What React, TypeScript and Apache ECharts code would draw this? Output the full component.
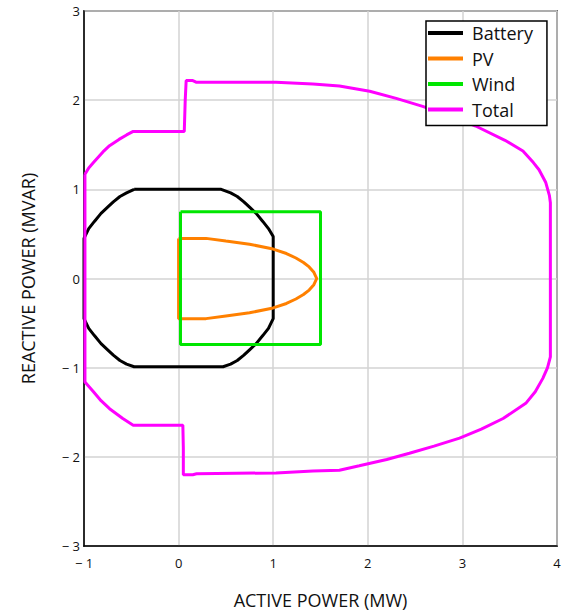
import React, { useEffect, useRef } from "react";
import * as echarts from "echarts";

const seriesNames = ["Battery", "PV", "Wind", "Total"];
const seriesColors = ["#000000", "#ff8000", "#00e600", "#ff00ff"];

const xTicks = [-1, 0, 1, 2, 3, 4];
const yTicks = [-3, -2, -1, 0, 1, 2, 3];

const battery: [number, number][] = [
  [-0.47, 1.0], [0.45, 1.0], [0.55, 0.96], [0.62, 0.92], [0.69, 0.86], [0.75, 0.8],
  [0.82, 0.73], [0.89, 0.64], [0.95, 0.56], [1.0, 0.47],
  [1.0, -0.45], [0.95, -0.56], [0.89, -0.64], [0.82, -0.73], [0.75, -0.8], [0.69, -0.86],
  [0.62, -0.92], [0.55, -0.96], [0.47, -0.99],
  [-0.47, -0.99], [-0.55, -0.96], [-0.62, -0.92], [-0.69, -0.86], [-0.75, -0.8],
  [-0.82, -0.73], [-0.89, -0.64], [-0.95, -0.56], [-1.0, -0.45],
  [-1.0, 0.45], [-0.95, 0.56], [-0.89, 0.64], [-0.82, 0.73], [-0.75, 0.8], [-0.69, 0.86],
  [-0.62, 0.92], [-0.55, 0.96], [-0.47, 1.0],
];

const pv: [number, number][] = [
  [0.0, 0.45], [0.29, 0.45], [0.5, 0.42], [0.75, 0.385], [1.0, 0.33], [1.14, 0.28],
  [1.24, 0.23], [1.32, 0.18], [1.38, 0.13], [1.43, 0.07], [1.46, 0.0], [1.43, -0.07],
  [1.38, -0.13], [1.32, -0.18], [1.24, -0.23], [1.14, -0.28], [1.0, -0.33], [0.75, -0.385],
  [0.5, -0.42], [0.29, -0.45], [0.0, -0.45], [0.0, 0.45],
];

const wind: [number, number][] = [
  [0.02, 0.75], [1.5, 0.75], [1.5, -0.74], [0.02, -0.74], [0.02, 0.75],
];

const total: [number, number][] = [
  [-0.99, 1.17], [-0.95, 1.24], [-0.9, 1.3], [-0.8, 1.42], [-0.73, 1.49], [-0.63, 1.56],
  [-0.55, 1.61], [-0.48, 1.65], [0.06, 1.65], [0.07, 2.0], [0.08, 2.22], [0.15, 2.22],
  [0.19, 2.2], [1.03, 2.2], [1.42, 2.18], [1.7, 2.16], [2.02, 2.1], [2.3, 2.02],
  [2.58, 1.93], [2.9, 1.81], [3.14, 1.71], [3.45, 1.55], [3.64, 1.43], [3.75, 1.3],
  [3.81, 1.22], [3.88, 1.08], [3.92, 0.93], [3.93, 0.85], [3.93, -0.88], [3.9, -1.0],
  [3.85, -1.12], [3.77, -1.27], [3.67, -1.4], [3.43, -1.57], [3.2, -1.69], [2.97, -1.79],
  [2.7, -1.88], [2.44, -1.96], [2.2, -2.03], [1.91, -2.1], [1.7, -2.15], [1.42, -2.16],
  [1.03, -2.18], [0.19, -2.19], [0.15, -2.2], [0.05, -2.2], [0.05, -1.9], [0.045, -1.645],
  [-0.48, -1.645], [-0.59, -1.57], [-0.73, -1.46], [-0.82, -1.37], [-0.9, -1.27],
  [-0.99, -1.16], [-0.99, -1.12], [-0.99, 1.17],
];

const seriesData = [battery, pv, wind, total];

const FONT = "'Open Sans', 'Noto Sans', sans-serif";

const fmt = (v: number) => (v < 0 ? "\u2212 " + Math.abs(v) : String(v));

export default function App() {
  const ref = useRef<HTMLDivElement>(null);
  useEffect(() => {
    document.body.style.margin = "0";
    if (!ref.current) return;
    const chart = echarts.init(ref.current, undefined, { renderer: "svg" });
    chart.setOption({
      animation: false,
      backgroundColor: "#ffffff",
      grid: {
        left: 84,
        right: 18,
        top: 11,
        bottom: 66,
        show: true,
        borderColor: "#000",
        borderWidth: 1.5,
      },
      legend: {
        data: seriesNames,
        orient: "vertical",
        left: 426,
        top: 21,
        backgroundColor: "#ffffff",
        borderColor: "#000",
        borderWidth: 1.5,
        borderRadius: 0,
        padding: [3, 14, 7, 2],
        itemGap: 7.5,
        itemWidth: 35,
        itemHeight: 4,
        icon: "rect",
        textStyle: { fontSize: 18, fontFamily: FONT, color: "#111", lineHeight: 18, padding: [0, 0, 0, 4] },
      },
      xAxis: {
        type: "value",
        min: xTicks[0],
        max: xTicks[xTicks.length - 1],
        interval: 1,
        name: "ACTIVE POWER (MW)",
        nameLocation: "middle",
        nameGap: 45,
        nameTextStyle: { fontSize: 18, fontFamily: FONT, color: "#111" },
        axisLine: { show: true, onZero: false, lineStyle: { color: "#000", width: 1.5 } },
        axisTick: { show: false },
        axisLabel: { formatter: fmt, fontSize: 13, fontFamily: FONT, color: "#111", margin: 10 },
        splitLine: { show: true, lineStyle: { color: "#d3d3d3", width: 1.5 } },
      },
      yAxis: {
        type: "value",
        min: yTicks[0],
        max: yTicks[yTicks.length - 1],
        interval: 1,
        name: "REACTIVE POWER (MVAR)",
        nameLocation: "middle",
        nameGap: 47,
        nameTextStyle: { fontSize: 18, fontFamily: FONT, color: "#111" },
        axisLine: { show: true, onZero: false, lineStyle: { color: "#000", width: 1.5 } },
        axisTick: { show: false },
        axisLabel: { formatter: fmt, fontSize: 13, fontFamily: FONT, color: "#111", margin: 4 },
        splitLine: { show: true, lineStyle: { color: "#d3d3d3", width: 1.5 } },
      },
      series: seriesNames.map((name, i) => ({
        name,
        type: "line",
        data: seriesData[i],
        symbol: "none",
        showSymbol: false,
        smooth: false,
        lineStyle: { color: seriesColors[i], width: 3 },
        itemStyle: { color: seriesColors[i] },
      })),
    });
    return () => chart.dispose();
  }, []);
  return <div ref={ref} style={{ width: 575, height: 614 }} />;
}
